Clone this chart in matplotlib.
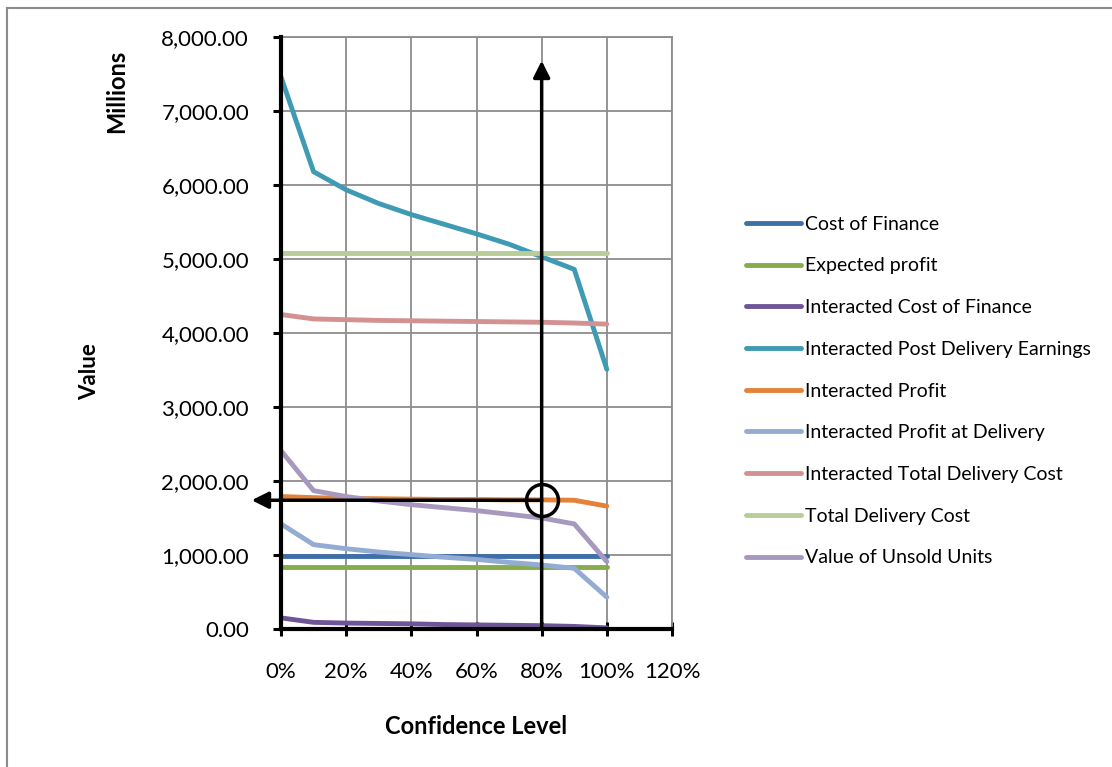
import matplotlib.pyplot as plt
from matplotlib.lines import Line2D

# данные, значения в миллионах
confidence = [0.0, 0.1, 0.2, 0.3, 0.4, 0.5, 0.6, 0.7, 0.8, 0.9, 1.0]

cost_of_finance = [980] * 11
expected_profit = [840] * 11
inter_cost_finance = [150, 90, 80, 75, 70, 60, 55, 50, 45, 35, 15]
inter_post_delivery = [7460, 6180, 5935, 5750, 5600, 5470, 5340, 5200, 5030, 4860, 3510]
inter_profit = [1790, 1775, 1765, 1760, 1755, 1750, 1750, 1745, 1745, 1740, 1660]
inter_profit_delivery = [1420, 1140, 1085, 1040, 1005, 970, 940, 900, 865, 820, 430]
inter_total_delivery = [4250, 4190, 4180, 4170, 4165, 4160, 4155, 4150, 4145, 4135, 4120]
total_delivery = [5080] * 11
unsold_units = [2410, 1870, 1790, 1730, 1680, 1640, 1600, 1550, 1500, 1420, 910]

series = [
    ("Cost of Finance", cost_of_finance, "#3f6fa8"),
    ("Expected profit", expected_profit, "#86ac4c"),
    ("Interacted Cost of Finance", inter_cost_finance, "#6f5597"),
    ("Interacted Post Delivery Earnings", inter_post_delivery, "#3f9ab4"),
    ("Interacted Profit", inter_profit, "#e4823a"),
    ("Interacted Profit at Delivery", inter_profit_delivery, "#93acd3"),
    ("Interacted Total Delivery Cost", inter_total_delivery, "#d39192"),
    ("Total Delivery Cost", total_delivery, "#b8cd98"),
    ("Value of Unsold Units", unsold_units, "#a798be"),
]

x_ticks = [0.0, 0.2, 0.4, 0.6, 0.8, 1.0, 1.2]
x_labels = ["0%", "20%", "40%", "60%", "80%", "100%", "120%"]
y_ticks = [0, 1000, 2000, 3000, 4000, 5000, 6000, 7000, 8000]

# точка, на которую указывают стрелки
mark_x = 0.8
mark_y = 1740
arrow_top = 7680
arrow_left = -0.09

plt.rcParams['font.family'] = ['Lato', 'DejaVu Sans']

fig = plt.figure(figsize=(11.12, 7.67), dpi=100)
ax = fig.add_axes([281 / 1112, 1 - 629 / 767, 391 / 1112, 592 / 767])

for name, values, color in series:
    ax.plot(confidence, values, color=color, lw=3.5, label=name, solid_capstyle='round', zorder=3)

ax.set_xlim(0, 1.2)
ax.set_ylim(0, 8000)
ax.set_xticks(x_ticks)
ax.set_xticklabels(x_labels)
ax.set_yticks(y_ticks)
ax.set_yticklabels(["{:,.2f}".format(v) for v in y_ticks])
ax.grid(True, color="#8c8c8c", lw=1.3, zorder=0)
ax.set_axisbelow(True)

for side in ["top", "right"]:
    ax.spines[side].set_color("#8c8c8c")
    ax.spines[side].set_linewidth(1.3)
for side in ["left", "bottom"]:
    ax.spines[side].set_color("black")
    ax.spines[side].set_linewidth(3)
    ax.spines[side].set_zorder(5)

ax.tick_params(axis='y', direction='out', length=6, width=2.2, pad=17, labelsize=16)
ax.tick_params(axis='x', direction='inout', length=10, width=2.2, pad=19, labelsize=16)

# стрелки и кружок
ax.annotate("", xy=(mark_x, arrow_top), xytext=(mark_x, 0),
            arrowprops=dict(arrowstyle='-|>', lw=2.5, color='black', mutation_scale=25,
                            shrinkA=0, shrinkB=0), annotation_clip=False, zorder=6)
ax.annotate("", xy=(arrow_left, mark_y), xytext=(mark_x, mark_y),
            arrowprops=dict(arrowstyle='-|>', lw=2.5, color='black', mutation_scale=25,
                            shrinkA=0, shrinkB=0), annotation_clip=False, zorder=6)
ax.plot([mark_x], [mark_y], 'o', ms=23, mfc='none', mec='black', mew=2.5, zorder=7, clip_on=False)

fig.text(90 / 1112, 1 - 372 / 767, "Value", rotation=90, ha='center', va='center',
         fontsize=16, fontweight='bold')
fig.text(117 / 1112, 1 - 91 / 767, "Millions", rotation=90, ha='center', va='center',
         fontsize=17, fontweight='bold')
fig.text(476 / 1112, 1 - 726 / 767, "Confidence Level", ha='center', va='center',
         fontsize=17, fontweight='bold')

handles = [Line2D([], [], color=c, lw=3.5, solid_capstyle='round') for _, _, c in series]
fig.legend(handles, [s[0] for s in series], loc='upper left',
           bbox_to_anchor=(738 / 1112, 1 - 208 / 767), frameon=False, fontsize=14,
           handlelength=2.85, handletextpad=0.2, labelspacing=1.27, borderaxespad=0)

# рамка диаграммы
fig.add_artist(Line2D([7 / 1112, 1], [1 - 8 / 767, 1 - 8 / 767], color="#8c8c8c", lw=1.5))
fig.add_artist(Line2D([7 / 1112, 7 / 1112], [0, 1 - 8 / 767], color="#8c8c8c", lw=1.5))

fig.savefig("out.png", dpi=100)
